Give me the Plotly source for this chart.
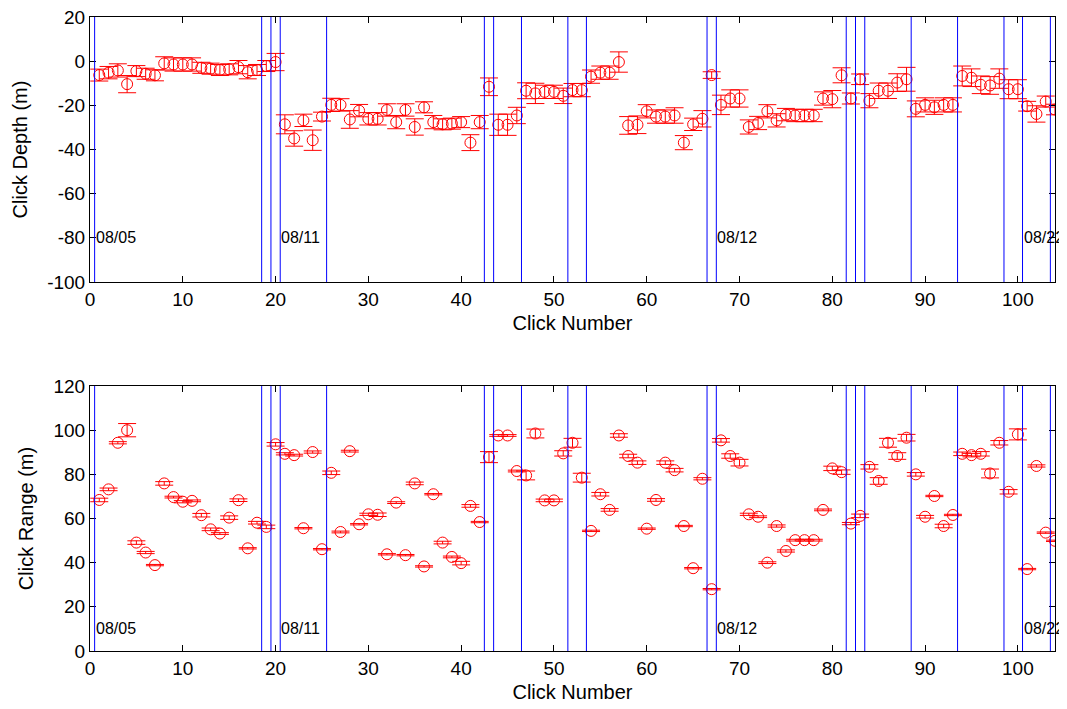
import plotly.graph_objects as go
from plotly.subplots import make_subplots

click_number = list(range(1, 105))

depth = [-6.3, -5.2, -4.2, -10.4, -4.5, -5.7, -6.4, -1.0, -1.5, -1.5,
         -1.5, -3.0, -3.4, -4.0, -3.7, -2.7, -5.0, -4.0, -2.2, -0.4,
         -28.6, -35.0, -26.8, -35.8, -25.1, -19.8, -19.8, -26.4, -22.4, -26.1,
         -26.1, -22.1, -27.6, -22.1, -29.8, -20.9, -27.6, -28.6, -28.3, -27.6,
         -36.9, -27.6, -11.6, -28.8, -28.8, -24.6, -13.4, -14.6, -13.9, -13.9,
         -15.7, -13.1, -13.1, -7.0, -5.2, -5.2, -0.4, -29.1, -28.8, -22.7,
         -25.1, -25.1, -24.6, -36.9, -28.6, -26.1, -6.3, -19.8, -16.9, -16.9,
         -29.8, -28.0, -22.7, -26.8, -24.2, -24.6, -24.6, -24.6, -16.9, -17.2,
         -6.4, -16.9, -8.2, -17.9, -13.4, -13.4, -9.7, -8.2, -21.6, -19.8,
         -20.9, -19.8, -19.8, -6.7, -7.5, -10.7, -11.0, -7.9, -12.7, -12.7,
         -20.4, -23.9, -18.3, -21.9]

depth_err = [2.7, 2.8, 3.0, 3.9, 2.5, 2.5, 2.5, 3.0, 3.0, 3.0,
             3.0, 2.5, 2.5, 2.5, 2.5, 3.0, 3.0, 2.5, 2.5, 3.9,
             4.3, 3.5, 2.8, 4.6, 2.0, 3.0, 2.8, 4.0, 2.8, 2.8,
             2.8, 2.8, 3.0, 2.8, 3.7, 2.5, 3.0, 2.5, 2.5, 2.5,
             3.6, 3.0, 4.0, 4.8, 4.8, 3.7, 3.6, 4.6, 3.0, 3.0,
             3.5, 3.0, 3.0, 3.0, 3.0, 3.0, 4.6, 4.0, 4.0, 3.0,
             3.0, 3.0, 3.5, 3.2, 2.8, 3.7, 1.5, 4.4, 3.9, 3.9,
             3.2, 3.0, 3.0, 3.0, 2.8, 2.8, 2.8, 2.8, 3.0, 3.9,
             3.4, 2.5, 2.4, 3.2, 3.5, 3.5, 4.0, 5.4, 3.6, 3.2,
             3.2, 3.2, 3.2, 4.5, 4.0, 4.0, 4.0, 4.4, 4.3, 4.3,
             2.2, 3.7, 2.5, 2.4]

click_range = [68.4, 73.2, 94.3, 100.0, 49.1, 44.6, 38.9, 75.9, 69.7, 67.6,
               68.0, 61.5, 55.1, 53.2, 60.4, 68.3, 46.5, 58.1, 56.2, 93.6,
               89.3, 88.7, 55.6, 90.1, 46.1, 80.7, 53.9, 90.5, 57.4, 61.9,
               61.7, 43.8, 67.2, 43.4, 75.9, 38.3, 71.0, 49.1, 42.6, 39.8,
               65.7, 58.4, 87.8, 97.6, 97.6, 81.5, 79.5, 98.5, 68.2, 68.2,
               89.5, 94.3, 78.5, 54.4, 71.0, 63.9, 97.6, 88.3, 85.3, 55.4,
               68.4, 85.3, 81.9, 56.6, 37.5, 78.0, 28.0, 95.4, 88.3, 85.3,
               61.9, 60.8, 40.0, 56.6, 45.3, 50.2, 50.2, 50.2, 63.9, 82.7,
               81.0, 57.7, 61.2, 83.4, 77.0, 94.3, 88.3, 96.6, 80.0, 60.8,
               70.2, 56.6, 61.6, 89.3, 88.7, 89.3, 80.4, 94.3, 72.1, 98.1,
               37.1, 83.8, 53.6, 49.9]

range_err = [0.8, 0.6, 0.5, 3.0, 0.8, 0.5, 0.3, 0.8, 0.4, 0.5,
             0.4, 0.8, 0.6, 0.4, 0.8, 0.6, 0.3, 0.6, 0.8, 0.8,
             0.5, 0.4, 0.3, 0.5, 0.3, 0.8, 0.4, 0.4, 0.3, 0.5,
             0.8, 0.3, 0.4, 0.3, 0.6, 0.3, 0.3, 0.6, 0.4, 0.8,
             0.6, 0.3, 2.5, 0.4, 0.4, 0.4, 2.0, 2.0, 0.6, 0.6,
             1.2, 2.0, 2.0, 0.3, 0.8, 0.6, 0.8, 0.8, 0.8, 0.3,
             0.6, 0.8, 0.8, 0.3, 0.3, 0.5, 0.3, 0.8, 1.0, 1.5,
             0.5, 0.4, 0.4, 0.5, 0.5, 0.4, 0.4, 0.4, 0.4, 1.0,
             1.0, 0.5, 0.8, 1.0, 1.5, 2.0, 1.5, 1.5, 0.8, 0.6,
             0.3, 0.8, 0.3, 0.8, 0.8, 1.0, 2.0, 1.0, 1.0, 2.5,
             0.3, 0.5, 0.3, 0.3]

boundary_lines = [0.5, 18.5, 19.5, 20.5, 25.5, 42.5, 43.5, 46.5, 51.5, 53.5,
                  66.5, 67.5, 81.5, 82.5, 83.5, 88.5, 93.5, 98.5, 100.5, 103.5]

date_labels = ["08/05", "08/11", "08/12", "08/22"]
date_label_x = [0.5, 20.5, 67.5, 100.5]
date_label_y_depth = -80
date_label_y_range = 10

x_ticks = [0, 10, 20, 30, 40, 50, 60, 70, 80, 90, 100]
depth_ticks = [-100, -80, -60, -40, -20, 0, 20]
depth_tick_text = ["-100", "-80", "-60", "-40", "-20", "0", "20"]
range_ticks = [0, 20, 40, 60, 80, 100, 120]

FONT = "Liberation Sans, Arial, sans-serif"

fig = make_subplots(rows=2, cols=1, vertical_spacing=0.1641)

fig.add_trace(go.Scatter(
    x=click_number, y=depth, mode="markers",
    marker=dict(symbol="circle-open", size=11, color="red", line=dict(color="red", width=1)),
    error_y=dict(type="data", array=depth_err, color="red", thickness=1, width=9),
    showlegend=False), row=1, col=1)

fig.add_trace(go.Scatter(
    x=click_number, y=click_range, mode="markers",
    marker=dict(symbol="circle-open", size=11, color="red", line=dict(color="red", width=1)),
    error_y=dict(type="data", array=range_err, color="red", thickness=1, width=9),
    showlegend=False), row=2, col=1)

shapes = []
for xr, yr in [("x", "y domain"), ("x2", "y2 domain")]:
    for xv in boundary_lines:
        shapes.append(dict(type="line", xref=xr, yref=yr, x0=xv, x1=xv, y0=0, y1=1,
                           line=dict(color="blue", width=1), layer="above"))

annotations = []
for txt, xv in zip(date_labels, date_label_x):
    annotations.append(dict(x=xv, y=date_label_y_depth, xref="x", yref="y", text=txt,
                            showarrow=False, xanchor="left", yanchor="middle",
                            font=dict(family=FONT, size=16, color="black"), borderpad=0))
    annotations.append(dict(x=xv, y=date_label_y_range, xref="x2", yref="y2", text=txt,
                            showarrow=False, xanchor="left", yanchor="middle",
                            font=dict(family=FONT, size=16, color="black"), borderpad=0))

axis_common = dict(showline=True, linecolor="black", linewidth=1, mirror="ticks",
                   ticks="inside", ticklen=6, tickcolor="black", showgrid=False,
                   zeroline=False, automargin=False, ticklabeloverflow="allow",
                   tickfont=dict(family=FONT, size=19, color="black"),
                   title_font=dict(family=FONT, size=20, color="black"))

fig.update_xaxes(**axis_common, range=[0, 104], tickvals=x_ticks,
                 title_text="Click Number", title_standoff=7)
fig.update_yaxes(**axis_common)
fig.update_yaxes(range=[-100, 20], tickvals=depth_ticks, ticktext=depth_tick_text,
                 title_text="Click Depth (m)", title_standoff=14, row=1, col=1)
fig.update_yaxes(range=[0, 120], tickvals=range_ticks,
                 title_text="Click Range (m)", title_standoff=14, row=2, col=1)

# page body has an 8px default margin, so the figure is sized to fit the window
fig.update_layout(
    width=1059, height=701,
    margin=dict(l=82, r=12, t=9, b=58, autoexpand=False),
    paper_bgcolor="white", plot_bgcolor="white",
    shapes=shapes, annotations=annotations,
    font=dict(family=FONT, color="black"),
)

fig.write_html("out.html")
